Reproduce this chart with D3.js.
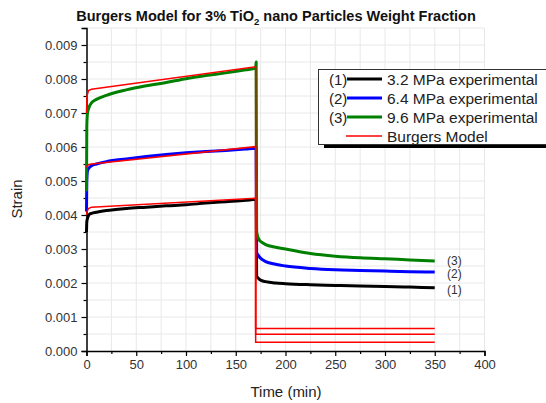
<!DOCTYPE html>
<html><head><meta charset="utf-8">
<script src="https://cdn.jsdelivr.net/npm/d3@7"></script>
<style>body{margin:0;background:#fff}svg{display:block;font-family:"Liberation Sans",Arial,sans-serif}</style>
</head><body><svg id="c" width="546" height="403"></svg>
<script>
// ---- data ----
const creepTime = [0, 0.3, 1, 2, 3, 5, 10, 20, 40, 60, 80, 100, 120, 140, 160, 170];
const creep32 = [0.0035, 0.0038, 0.0039, 0.00398, 0.00402, 0.00405, 0.00408, 0.00413, 0.00419, 0.00423, 0.00427, 0.0043, 0.00435, 0.00439, 0.00443, 0.00446];
const creep64 = [0.0041, 0.0050, 0.0053, 0.00536, 0.0054, 0.00545, 0.0055, 0.00557, 0.00565, 0.00572, 0.00578, 0.00583, 0.00587, 0.0059, 0.00594, 0.00596];
const creep96 = [0.0047, 0.0066, 0.0070, 0.00712, 0.0072, 0.0073, 0.0074, 0.00752, 0.00768, 0.0078, 0.0079, 0.00801, 0.0081, 0.00818, 0.00827, 0.00832];
const recTime = [170.5, 171, 173, 176, 180, 190, 200, 225, 250, 275, 300, 325, 350];
const rec32 = [0.00446, 0.0022, 0.00213, 0.00207, 0.00204, 0.0020, 0.00198, 0.00195, 0.00193, 0.00191, 0.0019, 0.00188, 0.00186];
const rec64 = [0.00596, 0.0029, 0.0028, 0.0027, 0.00263, 0.00255, 0.0025, 0.00243, 0.00239, 0.00237, 0.00235, 0.00233, 0.00232];
const rec96 = [0.0085, 0.0035, 0.0033, 0.0032, 0.00313, 0.00305, 0.0030, 0.00287, 0.00279, 0.00274, 0.00271, 0.00268, 0.00265];
const modelTime = [0, 0.5, 2, 5, 170, 170, 350];
const model32 = [0.0040, 0.0041, 0.00419, 0.00423, 0.00449, 0.00026, 0.00026];
const model64 = [0.0054, 0.00544, 0.00548, 0.0055, 0.00601, 0.00049, 0.00049];
const model96 = [0.0070, 0.0075, 0.00766, 0.0077, 0.00836, 0.00066, 0.00066];
const seriesNames = ["3.2 MPa experimental", "6.4 MPa experimental", "9.6 MPa experimental", "Burgers Model"];
const seriesTags = ["(1)", "(2)", "(3)"];
const xTicks = [0, 50, 100, 150, 200, 250, 300, 350, 400];
const yTicks = [0, 0.001, 0.002, 0.003, 0.004, 0.005, 0.006, 0.007, 0.008, 0.009];

const svg = d3.select("#c");
const x = d3.scaleLinear().domain([0, 400]).range([86.5, 484.5]);
const y = d3.scaleLinear().domain([0, 0.0095]).range([351, 28]);

// grid
const gx = d3.range(0, 401, 25), gy = d3.range(0, 0.00951, 0.0005);
svg.append("g").selectAll("line").data(gx.slice(1)).join("line")
  .attr("x1", d => x(d)).attr("x2", d => x(d)).attr("y1", y(0)).attr("y2", y(0.0095))
  .attr("stroke", "#e8e8e8").attr("stroke-width", 1);
svg.append("g").selectAll("line").data(gy.slice(1)).join("line")
  .attr("x1", x(0)).attr("x2", x(400)).attr("y1", d => y(d)).attr("y2", d => y(d))
  .attr("stroke", "#e8e8e8").attr("stroke-width", 1);

// axes
svg.append("g").attr("transform", `translate(0,${y(0)})`)
  .call(d3.axisBottom(x).tickValues(xTicks).tickFormat(d3.format("d")).tickSize(5).tickPadding(4));
svg.append("g").attr("transform", `translate(0,${y(0)})`)
  .call(d3.axisBottom(x).tickValues(d3.range(25, 400, 50)).tickFormat("").tickSize(3))
  .select(".domain").remove();
svg.append("g").attr("transform", `translate(${x(0)},0)`)
  .call(d3.axisLeft(y).tickValues(yTicks).tickFormat(d3.format(".3f")).tickSize(5).tickPadding(4));
svg.append("g").attr("transform", `translate(${x(0)},0)`)
  .call(d3.axisLeft(y).tickValues(d3.range(0.0005, 0.0096, 0.001)).tickFormat("").tickSize(3))
  .select(".domain").remove();
svg.selectAll(".domain").attr("stroke", "#000").attr("stroke-width", 1.5);
svg.selectAll(".tick line").attr("stroke", "#000").attr("stroke-width", 1.2);
svg.selectAll(".tick text").attr("font-size", 13).attr("fill", "#333")
  .attr("font-family", "Liberation Sans, Arial, sans-serif");

// lines
const line = d3.line().x(d => x(d[0])).y(d => y(d[1]));
const smooth = d3.line().x(d => x(d[0])).y(d => y(d[1])).curve(d3.curveMonotoneX);
const exp = [[creep32, rec32, "#000"], [creep64, rec64, "#0000ff"], [creep96, rec96, "#008000"]];
exp.forEach(([c, r, col]) => {
  const pts = creepTime.map((t, i) => [t, c[i]]).concat(recTime.map((t, i) => [t, r[i]]));
  svg.append("path").datum(pts).attr("d", smooth).attr("fill", "none")
    .attr("stroke", col).attr("stroke-width", 3).attr("stroke-linejoin", "round");
});
[model32, model64, model96].forEach(m => {
  svg.append("path").datum(modelTime.map((t, i) => [t, m[i]])).attr("d", line)
    .attr("fill", "none").attr("stroke", "#ff0000").attr("stroke-width", 1.5);
});

// end tags
const tagShift = [2, 1.5, -0.5];
[[rec32, 0], [rec64, 1], [rec96, 2]].forEach(([r, i]) => {
  svg.append("text").attr("x", 447).attr("y", y(r[r.length - 1]) + 4.5 + tagShift[i])
    .attr("font-size", 12).attr("fill", "#333").text(seriesTags[i]);
});

// title and labels
svg.append("text").attr("x", 276).attr("y", 21).attr("text-anchor", "middle")
  .attr("font-size", 14.5).attr("font-weight", "bold").attr("fill", "#111")
  .call(t => {
    t.append("tspan").text("Burgers Model for 3% TiO");
    t.append("tspan").attr("font-size", 9.5).attr("dy", 4).text("2");
    t.append("tspan").attr("dy", -4).text(" nano Particles Weight Fraction");
  });
svg.append("text").attr("x", 286).attr("y", 397).attr("text-anchor", "middle")
  .attr("font-size", 15).attr("fill", "#222").text("Time (min)");
svg.append("text").attr("transform", "translate(22,199) rotate(-90)").attr("text-anchor", "middle")
  .attr("font-size", 15).attr("fill", "#222").text("Strain");

// legend
const lg = svg.append("g");
lg.append("rect").attr("x", 324).attr("y", 143).attr("width", 230).attr("height", 5).attr("fill", "#000");
lg.append("rect").attr("x", 318.5).attr("y", 69.5).attr("width", 240).attr("height", 75)
  .attr("fill", "#fff").attr("stroke", "#333").attr("stroke-width", 1);
const cols = ["#000", "#0000ff", "#008000", "#ff0000"];
seriesNames.forEach((n, i) => {
  const yy = 79 + i * 19;
  if (i < 3) lg.append("text").attr("x", 329).attr("y", yy + 5.5).attr("font-size", 15).attr("fill", "#222").text(seriesTags[i]);
  lg.append("line").attr("x1", i < 3 ? 347 : 346).attr("x2", 382).attr("y1", yy).attr("y2", yy)
    .attr("stroke", cols[i]).attr("stroke-width", i < 3 ? 3 : 1.5);
  lg.append("text").attr("x", 387).attr("y", yy + 5.5).attr("font-size", 15.5).attr("fill", "#222").text(n);
});
</script></body></html>
